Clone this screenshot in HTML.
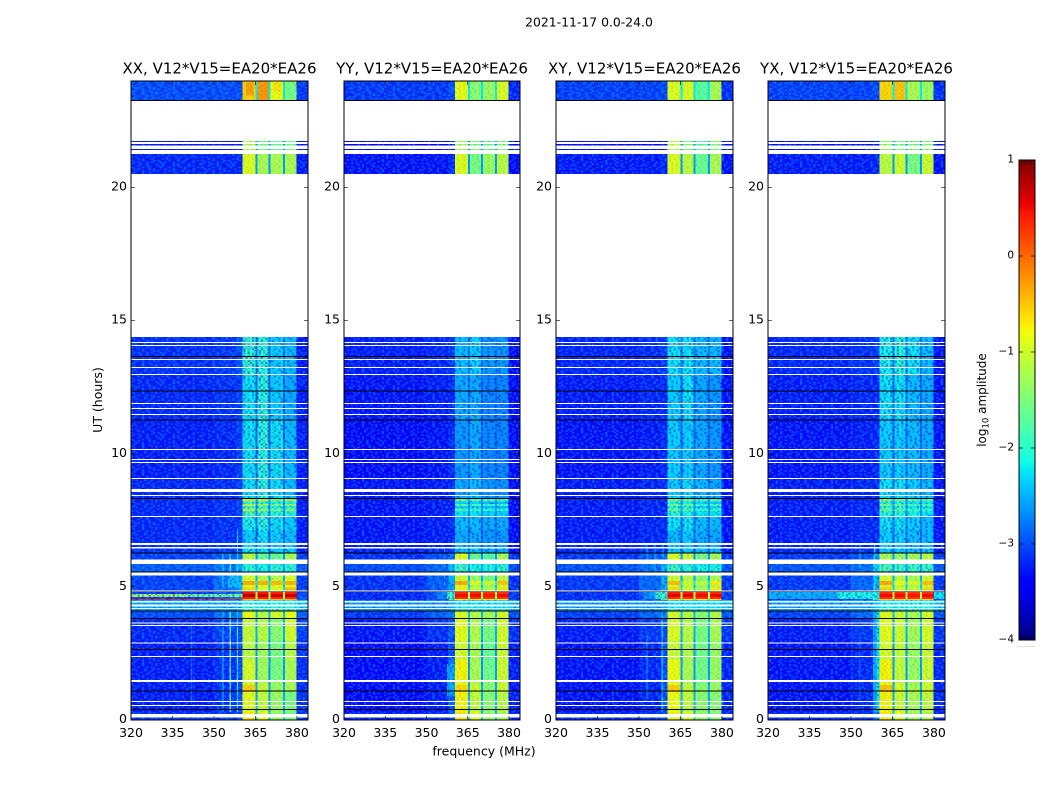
<!DOCTYPE html>
<html lang="en">
<head>
<meta charset="utf-8">
<title>2021-11-17 cross-correlation amplitude spectrogram</title>
<style>
html,body{margin:0;padding:0;background:#fff;width:1050px;height:800px;overflow:hidden}
svg{display:block}
text{font-family:"DejaVu Sans","Liberation Sans",sans-serif;fill:#000}
</style>
</head>
<body>
<svg id="chart" xmlns="http://www.w3.org/2000/svg" width="1050" height="800" viewBox="0 0 1050 800">
  <defs id="defs"></defs>
  <text x="589" y="26.5" font-size="12.4" text-anchor="middle">2021-11-17 0.0-24.0</text>
  <text x="484" y="755.5" font-size="12.5" text-anchor="middle">frequency (MHz)</text>
  <text x="102" y="400" font-size="12.5" text-anchor="middle" transform="rotate(-90 102 400)">UT (hours)</text>
  <text x="986" y="400" font-size="12" text-anchor="middle" transform="rotate(-90 986 400)">log<tspan font-size="8.5" dy="2.5">10</tspan><tspan dy="-2.5"> amplitude</tspan></text>
  <g id="panels"></g>
  <g id="colorbar"></g>
</svg>
<script>
// ---------- data ----------
const panelTitles = ['XX, V12*V15=EA20*EA26','YY, V12*V15=EA20*EA26','XY, V12*V15=EA20*EA26','YX, V12*V15=EA20*EA26'];
const freqTicks = [320,335,350,365,380];
const hourTicks = [0,5,10,15,20];
const colorbarTicks = [-4,-3,-2,-1,0,1];

// frequency columns, MHz
const bgColumn = [320,350];
const midColumn = [350,358];
const nearColumn = [358,360.4];
const signalColumns = [[360.4,365.1],[365.8,369.8],[370.5,374.9],[375.6,379.9]];
const gapColumns = [[365.1,365.8],[369.8,370.5],[374.9,375.6]];
const edgeColumn = [379.9,384];

// time rows, UT hours
const rowTop =    [24,21.75,21.26,14.38,12.96,11.27,9.01,8.30,8.20,8.12,8.03,7.95,7.85,7.64,7.14,6.65,6.27,5.86,5.42,5.22,5.07,4.98,4.83,4.73,4.62,4.54,4.50,4.09,3.83,3.00,2.25,1.50,1.31,1.05,0.30];
const rowBottom = [23.29,21.26,20.51,12.96,11.27,9.01,8.30,8.20,8.12,8.03,7.95,7.85,7.64,7.14,6.65,6.28,6.03,5.54,5.22,5.07,4.98,4.86,4.73,4.62,4.54,4.50,4.09,3.83,3.00,2.25,1.50,1.31,1.05,0.30,0];

// log10 amplitude shared by all products, by row
const bgLevels =   [-3.0,-3.3,-3.2,-3.15,-3.2,-3.25,-3.2,-3.2,-3.2,-3.2,-3.2,-3.2,-3.2,-3.2,-3.2,-3.15,-3.05,-2.9,-3.05,-3.05,-3.05,-3.05,-3.1,-3.1,-3.1,-3.1,-2.5,-3.0,-3.2,-3.25,-3.25,-3.25,-3.25,-3.25,-3.15];
const midLevels =  [-3.0,-3.3,-3.2,-3.1,-3.15,-3.2,-3.15,-3.15,-3.15,-3.15,-3.15,-3.15,-3.15,-3.15,-3.15,-3.1,-2.9,-2.75,-2.8,-2.8,-2.8,-2.8,-2.9,-2.9,-2.9,-2.9,-2.5,-2.8,-3.05,-3.15,-3.15,-3.15,-3.15,-3.15,-3.1];
const edgeLevels = [-3.1,-3.25,-3.25,-3.25,-3.25,-3.25,-3.25,-3.25,-3.25,-3.25,-3.25,-3.25,-3.25,-3.25,-3.25,-3.25,-3.05,-2.9,-3.05,-3.05,-3.05,-3.05,-3.0,-3.0,-3.0,-3.0,-2.3,-2.9,-3.05,-3.15,-3.15,-3.15,-3.15,-3.15,-3.15];
const gapLevels =  [-2.2,-2.6,-2.6,-2.8,-2.9,-2.9,-2.8,-2.5,-2.7,-2.5,-2.7,-2.5,-2.7,-2.8,-2.9,-2.9,-2.6,-2.5,-2.5,-2.2,-2.4,-2.2,-1.2,-1.0,-1.2,-2.0,-2.3,-2.4,-2.5,-2.6,-2.6,-2.6,-2.5,-2.5,-2.4];

// per-product columns by row: near, band1, band2, band3, band4
const xxBands = [
[-3,-.55,-.25,-.8,-1.4],[-3.3,-1.1,-1.5,-1.6,-1.5],[-3.2,-.9,-1.2,-1.2,-1.2],[-3,-1.95,-2,-2.3,-2.4],[-3.1,-2.2,-2,-2.3,-2.5],
[-3.1,-2.2,-2,-2.2,-2.4],[-3.1,-2.2,-2,-2.2,-2.4],[-3.1,-1.1,-1.2,-1.5,-1.3],[-3.1,-1.9,-2,-2.1,-2.1],[-3.1,-1.1,-1.2,-1.5,-1.3],
[-3.1,-1.9,-2,-2.1,-2.1],[-3.1,-1.2,-1.3,-1.6,-1.4],[-3.1,-1.8,-1.9,-2,-2],[-3.1,-2.1,-2,-2.2,-2.3],[-3.1,-2.3,-2.2,-2.3,-2.4],
[-3.1,-2.2,-2.2,-2.3,-2.3],[-2.8,-1.1,-1.6,-1.6,-1.2],[-2.5,-2,-2.1,-2,-2],[-2.5,-.95,-1.1,-1.1,-.9],[-2.5,-.35,-.4,-.45,-.4],
[-2.5,-.85,-.9,-.85,-.85],[-2.5,-.6,-.9,-.85,-.45],[-2.8,.45,.45,.4,.4],[-1.6,.75,.7,.65,.7],[-2.6,.4,.35,.35,.35],
[.2,-.5,-.5,-.5,-.5],[-2.4,-2,-2.1,-2,-2],[-2.7,-.8,-1.1,-.9,-.8],[-3,-1.05,-1.1,-1.4,-.95],[-3,-1.1,-1.25,-1.5,-1.1],
[-3,-.95,-1.25,-1.5,-1.2],[-3,-.95,-1.1,-1.3,-1.2],[-3,-.55,-1,-1.3,-1.2],[-3,-.85,-1.05,-1.3,-1.5],[-3,-.7,-.8,-1.3,-1.5]];
const yyBands = [
[-3,-.85,-1.4,-1.3,-.9],[-3.3,-1.2,-1.5,-1.6,-1.4],[-3.2,-.9,-1.5,-1.3,-1.1],[-3.1,-2.4,-2.3,-2.6,-2.6],[-3.2,-2.5,-2.5,-2.7,-2.7],
[-3.2,-2.6,-2.5,-2.7,-2.7],[-3.2,-2.5,-2.4,-2.6,-2.6],[-3.2,-1.7,-1.8,-1.9,-1.9],[-3.2,-2.3,-2.3,-2.4,-2.4],[-3.2,-1.7,-1.8,-1.9,-1.9],
[-3.2,-2.3,-2.3,-2.4,-2.4],[-3.2,-1.8,-1.9,-2,-2],[-3.2,-2.2,-2.2,-2.3,-2.3],[-3.2,-2.4,-2.4,-2.5,-2.5],[-3.2,-2.5,-2.5,-2.6,-2.6],
[-3.2,-2.4,-2.4,-2.5,-2.5],[-2.8,-.9,-1.6,-1.7,-1.2],[-2.4,-1.9,-2.1,-2.1,-2],[-2.5,-1,-1.3,-1.5,-1.1],[-2.5,-.35,-.9,-1,-.5],
[-2.5,-.9,-1.2,-1.3,-1],[-2.5,-.7,-1,-1.1,-.65],[-2.4,.35,.35,.3,.3],[-2,.5,.5,.45,.5],[-2.2,.3,.3,.3,.3],
[-1.6,-.8,-.8,-.8,-.8],[-2.5,-2.2,-2.2,-2.2,-2.2],[-2.7,-.9,-1.1,-1.2,-.9],[-3,-.85,-1.15,-1.5,-.95],[-3,-.95,-1.2,-1.6,-1],
[-2.8,-.75,-1.2,-1.55,-1],[-2.6,-.8,-1.1,-1.4,-1],[-2.6,-.6,-1,-1.4,-1],[-2.9,-.75,-1.05,-1.4,-1.1],[-3,-.7,-.85,-1.3,-1.2]];
const xyBands = [
[-3,-.9,-.9,-1.7,-1.2],[-3.3,-1,-1.4,-1.7,-1.4],[-3.2,-.9,-1.1,-1.6,-1.2],[-3.1,-2.2,-2.2,-2.4,-2.4],[-3.2,-2.3,-2.2,-2.5,-2.6],
[-3.2,-2.3,-2.3,-2.5,-2.6],[-3.2,-2.3,-2.2,-2.4,-2.5],[-3.2,-1.5,-1.6,-1.9,-1.8],[-3.2,-2.1,-2.1,-2.3,-2.3],[-3.2,-1.5,-1.6,-1.9,-1.8],
[-3.2,-2.1,-2.1,-2.3,-2.3],[-3.2,-1.6,-1.7,-1.9,-1.9],[-3.2,-2,-2.1,-2.2,-2.2],[-3.2,-2.2,-2.2,-2.4,-2.4],[-3.2,-2.4,-2.3,-2.5,-2.5],
[-3.2,-2.3,-2.3,-2.4,-2.4],[-2.8,-.9,-1,-1.5,-1.2],[-2.5,-1.9,-2,-2.1,-2.1],[-2.5,-1,-1.1,-1.4,-1.2],[-2.5,-.45,-1,-1.1,-.7],
[-2.5,-.95,-1.1,-1.3,-1.1],[-2.5,-.6,-.95,-1.2,-.7],[-2.3,.4,.4,.35,.35],[-1.9,.55,.55,.5,.52],[-2.1,.3,.3,.3,.3],
[-1.6,-.7,-.7,-.7,-.7],[-2.5,-2.2,-2.2,-2.2,-2.2],[-2.7,-.9,-1.1,-1.4,-1.1],[-3,-.9,-1.1,-1.5,-1.2],[-3,-1,-1.15,-1.55,-1.3],
[-3,-.8,-1.2,-1.55,-1.3],[-2.9,-.85,-1.1,-1.45,-1.3],[-2.9,-.55,-1.05,-1.4,-1.3],[-3,-.8,-1.05,-1.4,-1.4],[-3,-.75,-.85,-1.3,-1.4]];
const yxBands = [
[-3,-.6,-.5,-1.2,-1.3],[-3.3,-1.3,-1.5,-1.5,-1.4],[-3.2,-1.1,-1,-1.5,-1],[-3.1,-2.1,-2,-2.2,-2.4],[-3.2,-2.2,-2.2,-2.4,-2.5],
[-3.2,-2.3,-2.3,-2.4,-2.5],[-3.2,-2.2,-2.2,-2.3,-2.4],[-3.2,-1.5,-1.6,-1.8,-1.8],[-3.2,-2,-2.1,-2.2,-2.2],[-3.2,-1.5,-1.6,-1.8,-1.8],
[-3.2,-2,-2.1,-2.2,-2.2],[-3.2,-1.6,-1.7,-1.9,-1.9],[-3.2,-2,-2,-2.1,-2.2],[-3.2,-2.2,-2.2,-2.3,-2.4],[-3.2,-2.3,-2.3,-2.4,-2.4],
[-3.2,-2.3,-2.3,-2.4,-2.4],[-2.6,-1.2,-1.3,-1.2,-1.1],[-2.3,-1.8,-1.9,-1.9,-1.9],[-2.5,-.95,-1.1,-1.2,-1],[-2.5,-.35,-.8,-.9,-.45],
[-2.5,-.9,-1.1,-1.2,-1],[-2.5,-.55,-.9,-1,-.6],[-2.1,.35,.35,.3,.3],[-1.8,.5,.5,.45,.5],[-2.1,.3,.3,.3,.3],
[-1.6,-.6,-.6,-.6,-.6],[-2.4,-2.1,-2.1,-2.1,-2.1],[-2.5,-.85,-1,-1.2,-.9],[-2.6,-.85,-1,-1.25,-.95],[-2.6,-.95,-1.05,-1.3,-1],
[-2.5,-.75,-1.05,-1.3,-1],[-2.5,-.8,-1,-1.25,-1],[-2.5,-.5,-.95,-1.2,-1],[-2.6,-.75,-1,-1.2,-1.05],[-2.8,-.7,-.8,-1.2,-1.1]];
const panelBands = [xxBands,yyBands,xyBands,yxBands];
const panelBgShift = [0,-0.1,-0.06,-0.05];
// how strongly the noise shows through the signal bands, by row
const bandGrainStrength = [.2,.3,.2,.95,.95,.95,.95,.35,.7,.35,.7,.35,.6,.95,.95,.95,.25,.6,.2,.15,.2,.15,.05,.05,.05,.2,.6,.2,.2,.2,.2,.2,.2,.2,.2];

// localized features per product: startMHz, endMHz, topHour, bottomHour, level
const xxFeatures = [[320,340,4.73,4.62,-1.25],[340,360.4,4.73,4.62,-1.55],[320,360.4,4.54,4.50,0.4],[353.1,353.5,4.09,.3,-2.3],[355.6,356.1,4.09,.3,-1.9],[358.3,358.7,4.09,.3,-2.1],[353.1,353.5,6.3,5.0,-2.2],[355.6,356.1,6.3,5.0,-2.0],[358.3,358.7,7.1,5.0,-2.2],[341.8,342.1,3.6,.6,-2.4],[355,360.4,5.42,4.98,-2.4],[361.5,364.3,23.95,23.45,-.3],[371.5,374.5,23.95,23.6,-.65],[376.2,379.4,23.95,23.35,-1.55]];
const yyFeatures = [[354,357.5,4.83,4.54,-2.7],[357.5,360.4,4.83,4.54,-1.9],[356.3,356.7,6.5,5.0,-2.5],[353.2,353.5,6.5,5.5,-2.6],[357.5,360.4,2.1,.9,-2.5],[358,358.3,3.3,.5,-2.7]];
const xyFeatures = [[352,356,4.83,4.54,-2.6],[356,360.4,4.83,4.54,-1.9],[352.8,353.1,6.6,5.5,-2.4],[355.6,356,6.6,5.5,-2.4],[358.5,358.9,6.6,4.9,-2.3],[352.8,353.1,3.2,.8,-2.5],[358.2,358.6,4.09,.3,-2.4]];
const yxFeatures = [[320,345,4.83,4.54,-2.5],[345,360.4,4.83,4.54,-2.1],[380,384,4.83,4.54,-2.2],[353,353.4,6.6,5.4,-2.4],[358.4,358.8,6.6,4.9,-2.2],[359.2,360.4,4.09,.3,-2.2],[353,353.3,3,.8,-2.6]];
const panelFeatures = [xxFeatures,yyFeatures,xyFeatures,yxFeatures];

// flagged / empty time ranges: topHour, bottomHour
const blankTop =    [23.22,21.71,21.58,21.41,20.51,14.20,14.08,13.56,13.26,13.00,11.91,11.72,11.49,10.18,9.80,9.69,9.09,8.68,8.45,7.66,6.65,6.50,6.03,5.54,4.87,4.47,4.33,4.21,3.66,3.57,2.91,2.40,1.51,.71,.56,.225];
const blankBottom = [21.76,21.63,21.45,21.26,14.38,14.16,14.05,13.52,13.22,12.96,11.87,11.68,11.46,10.14,9.77,9.65,9.05,8.56,8.41,7.62,6.57,6.44,5.86,5.42,4.83,4.42,4.27,4.17,3.62,3.53,2.87,2.37,1.42,.68,.53,.10];
// zero-amplitude time rows, UT hours
const darkHours = [23.26,13.66,12.36,11.26,8.32,6.28,5.56,4.82,4.10,3.82,2.65,1.08,0.40];

// fixed background grain, one hand-typed tile (. none, 1 lighter, 2 cyan, 3 darker)
const grainTile = [
"1.3.2..1.3.1..2.3..1.2.3..1..3.2",
".3.1.3.2..3.1.1..3.2.1..3.2.1.3.",
"2..3.1..1.3..2.3.1..3.1.1..3..1.",
".1.2..3.2.1.3..1.3.2..3.1.3.2.3.",
"3.1..1.3..2.1.3..2.1.3.2..1.1..3",
".2.3.1..1.3..3.1.3..1.3..2.3.3.1",
"1.3..2.3.1.2.1.3.1.2.1.3.1..1.2.",
".1.3.1..3..1.3..2.3.1..1.3.2.3..",
"3..1.3.2.1.3..1.1..3.2.3.1.3..1.",
".2.3..1.3.2.1.3.2.1.1..2.3..1.3.",
"1.1.3.2..1.3..2.3..3.1.1.3.2..1.",
".3..1.3.1.3.1.1..2.1.3..1.3.1.3.",
"2.1.3..2..1.3.3.1.3.2.1.3..2.1..",
".3.2.1.3.1.3..1.2..3.1.3.1.3..3.",
"1..3.1..3.2.1.3..1.3.2..1.3.1.1.",
".1.2.3.1.1.3.2.1.3.1.3.2..3.1.3."];
const grainColors = {'1':'#2f78ff','2':'#00a8ff','3':'#0008b8'};

// ---------- layout ----------
const panelLeft = [131,344,556,768];
const panelRight = [308,520,733,945];
const plotTop = 81, plotBottom = 720;
const freqMin = 320, freqMax = 384, hourMin = 0, hourMax = 24;
const cbarLeft = 1019, cbarRight = 1035, cbarTop = 160, cbarBottom = 640, levelMin = -4, levelMax = 1;

const NS = 'http://www.w3.org/2000/svg';
function make(tag, attrs, parent){
  const el = document.createElementNS(NS, tag);
  for (const k in attrs) el.setAttribute(k, attrs[k]);
  parent.appendChild(el);
  return el;
}
function xScale(p, f){ return panelLeft[p] + (f - freqMin) / (freqMax - freqMin) * (panelRight[p] - panelLeft[p]); }
function yScale(h){ return plotBottom - (h - hourMin) / (hourMax - hourMin) * (plotBottom - plotTop); }
function levelY(v){ return cbarBottom - (v - levelMin) / (levelMax - levelMin) * (cbarBottom - cbarTop); }
function ramp(t, stops){
  for (let i = 1; i < stops.length; i++) {
    if (t <= stops[i][0]) {
      const a = stops[i-1], b = stops[i];
      return a[1] + (b[1]-a[1]) * (t-a[0]) / (b[0]-a[0]);
    }
  }
  return stops[stops.length-1][1];
}
function jet(v){
  const t = Math.max(0, Math.min(1, (v - levelMin) / (levelMax - levelMin)));
  const r = ramp(t, [[0,0],[.35,0],[.66,1],[.89,1],[1,.5]]);
  const g = ramp(t, [[0,0],[.125,0],[.375,1],[.64,1],[.91,0],[1,0]]);
  const b = ramp(t, [[0,.5],[.11,1],[.34,1],[.65,0],[1,0]]);
  return 'rgb(' + Math.round(r*255) + ',' + Math.round(g*255) + ',' + Math.round(b*255) + ')';
}

// ---------- grain pattern ----------
const defs = document.getElementById('defs');
const grainW = 2.2, grainH = 1.7;
panelLeft.forEach(function(left, p){
  const pat = make('pattern', {id:'grain'+p, patternUnits:'userSpaceOnUse', width:grainW*grainTile[0].length, height:grainH*grainTile.length, patternTransform:'translate('+(left+p*7)+','+(p*6)+')'}, defs);
  grainTile.forEach(function(row, j){
    row.split('').forEach(function(ch, i){
      if (ch === '.') return;
      make('rect', {x:i*grainW, y:j*grainH, width:grainW, height:grainH, fill:grainColors[ch], 'fill-opacity':ch === '3' ? .55 : .6}, pat);
    });
  });
});

// ---------- panels ----------
const panelsRoot = document.getElementById('panels');
function cell(g, p, f0, f1, top, bottom, level){
  const x0 = xScale(p, f0), x1 = xScale(p, f1), y0 = yScale(top), y1 = yScale(bottom);
  const r = make('rect', {x:x0, y:y0, width:Math.max(x1-x0,.8), height:Math.max(y1-y0,.8), fill:jet(level), 'shape-rendering':'crispEdges'}, g);
  
  
  return r;
}
panelTitles.forEach(function(title, p){
  const g = make('g', {}, panelsRoot);
  
  
  const bands = panelBands[p];
  const shift = panelBgShift[p];
  rowTop.forEach(function(top, i){
    const bottom = rowBottom[i];
    cell(g, p, bgColumn[0], bgColumn[1], top, bottom, bgLevels[i] + shift);
    cell(g, p, midColumn[0], midColumn[1], top, bottom, midLevels[i] + shift);
    cell(g, p, nearColumn[0], nearColumn[1], top, bottom, bands[i][0]);
    signalColumns.forEach(function(col, k){
      cell(g, p, col[0], col[1], top, bottom, bands[i][k+1]);
    });
    gapColumns.forEach(function(col){
      cell(g, p, col[0], col[1], top, bottom, gapLevels[i]);
    });
    cell(g, p, edgeColumn[0], edgeColumn[1], top, bottom, edgeLevels[i] + shift);
  });
  panelFeatures[p].forEach(function(f){
    cell(g, p, f[0], f[1], f[2], f[3], f[4]);
  });
  // grain over each row
  rowTop.forEach(function(top, i){
    const y0 = yScale(top), h = yScale(rowBottom[i]) - y0;
    [[freqMin,signalColumns[0][0],.85],[signalColumns[0][0],edgeColumn[0],bandGrainStrength[i]],[edgeColumn[0],freqMax,.85]].forEach(function(s){
      const r = make('rect', {x:xScale(p,s[0]), y:y0, width:xScale(p,s[1])-xScale(p,s[0]), height:h, fill:'url(#grain'+p+')', opacity:s[2], 'shape-rendering':'crispEdges'}, g);
      
      
    });
  });
  // dark rows
  darkHours.forEach(function(h){
    const r = make('rect', {x:panelLeft[p], y:yScale(h)-.5, width:panelRight[p]-panelLeft[p], height:1, fill:'#000', 'shape-rendering':'crispEdges'}, g);
    
    
  });
  // blank rows
  blankTop.forEach(function(top, i){
    const y0 = yScale(top), h = Math.max(yScale(blankBottom[i]) - y0, 1);
    const r = make('rect', {x:panelLeft[p], y:y0, width:panelRight[p]-panelLeft[p], height:h, fill:'#fff', 'shape-rendering':'crispEdges'}, g);
    
    
  });
  // frame
  const frame = make('rect', {x:panelLeft[p], y:plotTop, width:panelRight[p]-panelLeft[p], height:plotBottom-plotTop, fill:'none', stroke:'#000', 'stroke-width':1}, g);
  
  
  // title
  const t = make('text', {x:(panelLeft[p]+panelRight[p])/2, y:73.5, 'font-size':15, 'text-anchor':'middle'}, g);
  t.textContent = title;
  
  
  // x ticks
  freqTicks.forEach(function(f){
    const x = xScale(p, f);
    [[plotBottom,plotBottom-4],[plotTop,plotTop+4]].forEach(function(s){
      const l = make('line', {x1:x, x2:x, y1:s[0], y2:s[1], stroke:'#000', 'stroke-width':.6}, g);
      
      
    });
    const lab = make('text', {x:x, y:737, 'font-size':12.5, 'text-anchor':'middle'}, g);
    lab.textContent = String(f);
    
    
  });
  // y ticks
  hourTicks.forEach(function(h){
    const y = yScale(h);
    [[panelLeft[p],panelLeft[p]+4],[panelRight[p],panelRight[p]-4]].forEach(function(s){
      const l = make('line', {x1:s[0], x2:s[1], y1:y, y2:y, stroke:'#000', 'stroke-width':.6}, g);
      
      
    });
    const lab = make('text', {x:panelLeft[p]-4, y:y+3, 'font-size':12.5, 'text-anchor':'end'}, g);
    lab.textContent = String(h);
    
    
  });
});

// ---------- colorbar ----------
const cb = document.getElementById('colorbar');
for (let y = cbarTop; y < cbarBottom; y++) {
  const v = levelMax - (y + .5 - cbarTop) / (cbarBottom - cbarTop) * (levelMax - levelMin);
  const s = make('rect', {x:cbarLeft, y:y, width:cbarRight-cbarLeft, height:1, fill:jet(v), 'shape-rendering':'crispEdges'}, cb);
  
  
}
const cbFrame = make('rect', {x:cbarLeft, y:cbarTop, width:cbarRight-cbarLeft, height:cbarBottom-cbarTop, fill:'none', stroke:'#000', 'stroke-width':1}, cb);


colorbarTicks.forEach(function(v){
  const y = levelY(v);
  [[cbarLeft,cbarLeft+4],[cbarRight,cbarRight-4]].forEach(function(s){
    const l = make('line', {x1:s[0], x2:s[1], y1:y, y2:y, stroke:'#000', 'stroke-width':.7}, cb);
    
    
  });
  const lab = make('text', {x:cbarLeft-5, y:y+2.5, 'font-size':10.5, 'text-anchor':'end', fill:'#222'}, cb);
  lab.textContent = String(v).replace('-', '\u2212');
  
  
});
[1022,1025,1028,1031].forEach(function(x){
  [[cbarTop,cbarTop+5],[cbarBottom,cbarBottom-5]].forEach(function(s){
    const l = make('line', {x1:x, x2:x, y1:s[0], y2:s[1], stroke:'#000', 'stroke-width':.6}, cb);
    
    
  });
});
for (let x = 1017.5; x < 1035; x += 3) {
  const d = make('rect', {x:x, y:646, width:1, height:1, fill:'#aaa'}, cb);
  
  
}
</script>
</body>
</html>
